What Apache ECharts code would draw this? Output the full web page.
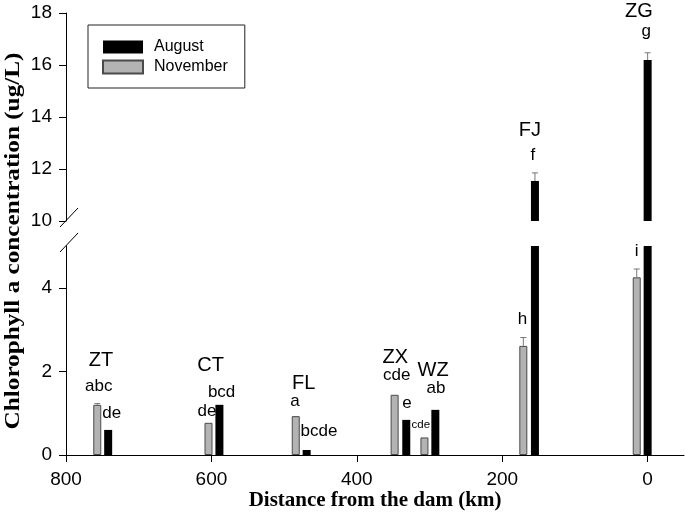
<!DOCTYPE html>
<html>
<head>
<meta charset="utf-8">
<script src="https://cdn.jsdelivr.net/npm/echarts@6/dist/echarts.min.js"></script>
<style>
  html, body { margin: 0; padding: 0; background: #fff; }
  #chart { width: 685px; height: 520px; }
</style>
</head>
<body>
<div id="chart"></div>
<script>
// sites along the river, km from the dam (bar positions)
const sites = ["ZT", "CT", "FL", "ZX", "WZ", "FJ", "ZG"];
const augDistance = [742, 589, 469, 332, 292, 155, 0];
const novDistance = [757, 604, 484, 348, 307, 171, 15];
const august = [0.6, 1.2, 0.12, 0.84, 1.08, 11.54, 16.19];
const november = [1.2, 0.77, 0.93, 1.44, 0.42, 2.61, 4.25];
const augustErr = [0, 0, 0, 0, 0, 0.31, 0.28];
const novemberErr = [0.03, 0, 0, 0, 0, 0.2, 0.2];
const xTicks = [800, 600, 400, 200, 0];
const lowerTicks = [0, 2, 4];
const upperTicks = [10, 12, 14, 16, 18];

// site names: [text, km, value]
const siteLabels = [
  ["ZT", 752, 2.27], ["CT", 601, 2.15], ["FL", 473, 1.71], ["ZX", 347, 2.34],
  ["WZ", 295, 2.02], ["FJ", 162, 13.48], ["ZG", 12, 18.05]
];
// significance letters: [text, km, value, fontSize]
const letterLabels = [
  ["abc", 755, 1.65, 17], ["de", 737, 1.0, 17],
  ["bcd", 586, 1.5, 17], ["de", 606, 1.05, 17],
  ["a", 485, 1.29, 17], ["bcde", 452, 0.56, 17],
  ["cde", 345, 1.91, 17], ["e", 331, 1.24, 17],
  ["ab", 291, 1.59, 17], ["cde", 312, 0.72, 11.5],
  ["f", 158, 12.54, 17], ["h", 172, 3.24, 17],
  ["g", 2, 17.31, 17], ["i", 15, 4.88, 17]
];

const LOWER_MAX = 5, UPPER_MIN = 10;
const sans = "Liberation Sans";
const serif = "Liberation Serif";

const novData = novDistance.map((d, i) => [d, november[i]]);
const augData = augDistance.map((d, i) => [d, august[i]]);
const augUpper = augDistance.map((d, i) => [d, august[i] > UPPER_MIN ? august[i] : "-"]);

const errLow = [], errUp = [];
novDistance.forEach((d, i) => {
  if (novemberErr[i] > 0) errLow.push([d, november[i], novemberErr[i]]);
});
augDistance.forEach((d, i) => {
  if (augustErr[i] > 0 && august[i] > UPPER_MIN) errUp.push([d, august[i], augustErr[i]]);
});

function errorItem(params, api) {
  const x = api.value(0), y = api.value(1), e = api.value(2);
  const base = api.coord([x, y]);
  const top = api.coord([x, y + e]);
  const style = { stroke: "#777", lineWidth: 1 };
  return {
    type: "group",
    children: [
      { type: "line", shape: { x1: base[0], y1: base[1], x2: top[0], y2: top[1] }, style },
      { type: "line", shape: { x1: top[0] - 3, y1: top[1], x2: top[0] + 3, y2: top[1] }, style }
    ]
  };
}

const axisColor = "#000";
const chart = echarts.init(document.getElementById("chart"));

chart.setOption({
  animation: false,
  backgroundColor: "#fff",
  grid: [
    { left: 66, right: 1, top: 13, height: 208 },
    { left: 66, right: 1, top: 246, height: 209 }
  ],
  legend: {
    data: ["August", "November"],
    orient: "vertical",
    left: 88,
    top: 25,
    itemWidth: 40,
    itemHeight: 13,
    itemGap: 4,
    icon: "rect",
    padding: [14, 17, 13, 14],
    borderColor: "#222",
    borderWidth: 1,
    textStyle: { fontFamily: sans, fontSize: 16, color: "#000", padding: [0, 0, 0, 6] }
  },
  xAxis: [
    { gridIndex: 0, type: "value", min: -50, max: 800, inverse: true, show: false },
    {
      gridIndex: 1, type: "value", min: -50, max: 800, inverse: true,
      axisLine: { onZero: false, lineStyle: { color: axisColor, width: 1 } },
      axisTick: { customValues: xTicks, length: 7, lineStyle: { color: axisColor } },
      axisLabel: { customValues: xTicks, fontFamily: sans, fontSize: 19, color: "#000", margin: 15 },
      splitLine: { show: false },
      name: "Distance from the dam (km)",
      nameLocation: "middle",
      nameGap: 35,
      nameTextStyle: { fontFamily: serif, fontWeight: "bold", fontSize: 21, color: "#000" }
    }
  ],
  yAxis: [
    {
      gridIndex: 0, type: "value", min: UPPER_MIN, max: 18, interval: 2, position: "left",
      axisLine: { show: true, onZero: false, lineStyle: { color: axisColor, width: 1 } },
      axisTick: { show: true, length: 7, lineStyle: { color: axisColor } },
      axisLabel: { customValues: upperTicks, fontFamily: sans, fontSize: 19, color: "#000", margin: 14 },
      splitLine: { show: false }
    },
    {
      gridIndex: 1, type: "value", min: 0, max: LOWER_MAX, position: "left",
      axisLine: { show: true, onZero: false, lineStyle: { color: axisColor, width: 1 } },
      axisTick: { show: true, customValues: lowerTicks, length: 7, lineStyle: { color: axisColor } },
      axisLabel: { customValues: lowerTicks, fontFamily: sans, fontSize: 19, color: "#000", margin: 14 },
      splitLine: { show: false }
    }
  ],
  series: [
    {
      name: "August", type: "bar", xAxisIndex: 1, yAxisIndex: 1, data: augData,
      barWidth: 8, barGap: "-100%", clip: true,
      itemStyle: { color: "#000" }
    },
    {
      name: "November", type: "bar", xAxisIndex: 1, yAxisIndex: 1, data: novData,
      barWidth: 8, barGap: "-100%", clip: true,
      itemStyle: { color: "#b3b3b3", borderColor: "#4a4a4a", borderWidth: 1 }
    },
    {
      name: "August", type: "bar", xAxisIndex: 0, yAxisIndex: 0, data: augUpper,
      barWidth: 8, clip: true,
      itemStyle: { color: "#000" }
    },
    {
      type: "custom", xAxisIndex: 1, yAxisIndex: 1, data: errLow,
      renderItem: errorItem, z: 1, silent: true
    },
    {
      type: "custom", xAxisIndex: 0, yAxisIndex: 0, data: errUp,
      renderItem: errorItem, z: 1, silent: true
    }
  ]
});

// annotations, break marks and y title placed through the axes' own scales
function place(km, v) {
  return chart.convertToPixel({ gridIndex: v >= UPPER_MIN - 1 ? 0 : 1 }, [km, v]);
}
const graphics = [];
siteLabels.forEach(([t, km, v]) => {
  const p = place(km, v);
  graphics.push({
    type: "text", x: p[0], y: p[1],
    style: { text: t, fontFamily: sans, fontSize: 20, fill: "#000", align: "center", verticalAlign: "middle" }
  });
});
letterLabels.forEach(([t, km, v, fs]) => {
  const p = place(km, v);
  graphics.push({
    type: "text", x: p[0], y: p[1],
    style: { text: t, fontFamily: sans, fontSize: fs, fill: "#000", align: "center", verticalAlign: "middle" }
  });
});

const axisX = chart.convertToPixel({ gridIndex: 1 }, [800, 0])[0];
const upperBottom = chart.convertToPixel({ gridIndex: 0 }, [800, UPPER_MIN])[1];
const lowerTop = chart.convertToPixel({ gridIndex: 1 }, [800, LOWER_MAX])[1];
[upperBottom, lowerTop].forEach(yy => {
  graphics.push({
    type: "line",
    shape: { x1: axisX - 6, y1: yy + 6, x2: axisX + 12, y2: yy - 13 },
    style: { stroke: "#000", lineWidth: 1 }
  });
});

graphics.push({
  type: "text", x: 14, y: 241, rotation: Math.PI / 2, scaleX: 1.26,
  style: {
    text: "Chlorophyll a concentration (ug/L)", fontFamily: serif, fontWeight: "bold",
    fontSize: 20, fill: "#000", align: "center", verticalAlign: "middle"
  }
});

chart.setOption({ graphic: graphics });
</script>
</body>
</html>
